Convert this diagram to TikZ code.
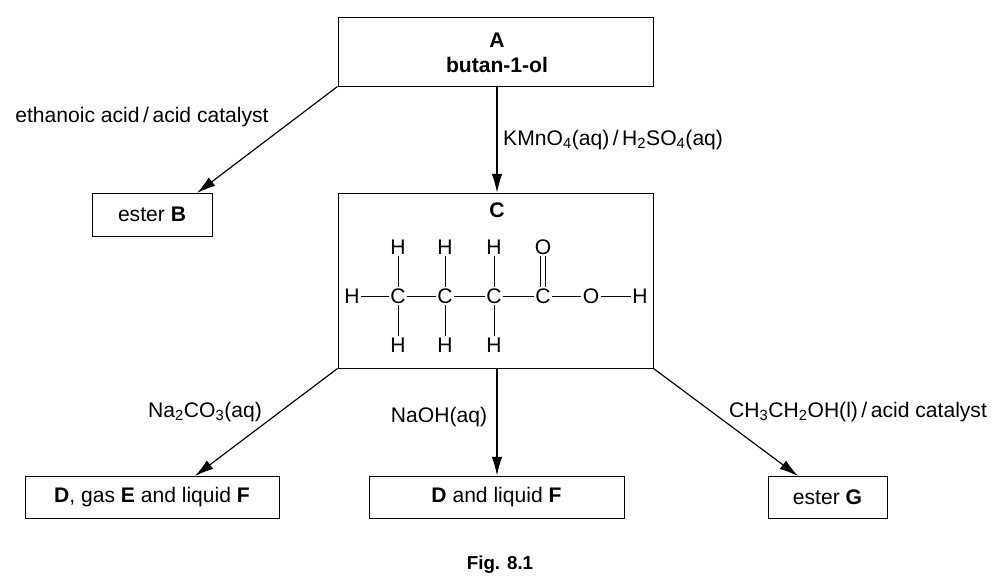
\documentclass[tikz,border=0pt]{standalone}
\usepackage{fontspec}
\setmainfont{Liberation Sans}
\usetikzlibrary{arrows.meta}
\newcommand{\sbs}[1]{\textsubscript{#1}}
\begin{document}
\begin{tikzpicture}[x=0.03cm,y=-0.03cm,
  box/.style={draw,line width=0.8pt,inner sep=0pt,font=\fontsize{18}{21}\selectfont},
  arr/.style={line width=1pt,-{Latex[length=16pt,width=9pt]}},
  lbl/.style={font=\fontsize{18}{21}\selectfont,inner sep=0pt},
  atom/.style={font=\fontsize{18}{21}\selectfont,inner sep=1pt},
  bond/.style={line width=0.8pt}]
\useasboundingbox (0,0) rectangle (1001,582);
\node[box,minimum width=315*0.03cm,minimum height=69*0.03cm] (A) at (495.5,51.5) {};
\node[lbl,font=\fontsize{18}{21}\selectfont\bfseries] at (497,40) {A};
\node[lbl,font=\fontsize{18}{21}\selectfont\bfseries] at (497,65) {butan-1-ol};
\node[box,minimum width=120*0.03cm,minimum height=43*0.03cm] (B) at (152,214.5) {ester \textbf{B}};
\node[box,minimum width=315*0.03cm,minimum height=175*0.03cm] (C) at (495.5,280.5) {};
\node[lbl,font=\fontsize{18}{21}\selectfont\bfseries] at (497,210) {C};
\node[box,minimum width=254*0.03cm,minimum height=42*0.03cm] (D1) at (152,497) {\textbf{D}, gas \textbf{E} and liquid \textbf{F}};
\node[box,minimum width=255*0.03cm,minimum height=42*0.03cm] (D2) at (496.5,497) {\textbf{D} and liquid \textbf{F}};
\node[box,minimum width=119*0.03cm,minimum height=42*0.03cm] (G) at (827.5,497) {ester \textbf{G}};
\node[lbl,font=\fontsize{16}{19}\selectfont\bfseries] (fig) at (500,565) {Fig. 8.1};
\coordinate (tB) at (197,193);
\coordinate (tD) at (195,476);
\coordinate (tG) at (798,476);
\draw[arr] (A.south west) -- (tB);
\draw[arr] (A.south -| 497,0) -- (C.north -| 497,0);
\draw[arr] (C.south west) -- (tD);
\draw[arr] (C.south -| 497,0) -- (D2.north -| 497,0);
\draw[arr] (C.south east) -- (tG);
\node[lbl] at (142,117) {ethanoic acid\,/\,acid catalyst};
\node[lbl,anchor=west] at (503,140) {KMnO\sbs{4}(aq)\,/\,H\sbs{2}SO\sbs{4}(aq)};
\node[lbl] at (205,412) {Na\sbs{2}CO\sbs{3}(aq)};
\node[lbl] at (439,417) {NaOH(aq)};
\node[lbl] at (858,412) {CH\sbs{3}CH\sbs{2}OH(l)\,/\,acid catalyst};
% molecule
\node[atom] (H0) at (352,296) {H};
\node[atom] (C1) at (398,296) {C};
\node[atom] (C2) at (445,296) {C};
\node[atom] (C3) at (494,296) {C};
\node[atom] (C4) at (543,296) {C};
\node[atom] (O1) at (591,296) {O};
\node[atom] (H9) at (640,296) {H};
\node[atom] (H1) at (398,247) {H};
\node[atom] (H2) at (445,247) {H};
\node[atom] (H3) at (494,247) {H};
\node[atom] (O2) at (543,247) {O};
\node[atom] (H4) at (398,345) {H};
\node[atom] (H5) at (445,345) {H};
\node[atom] (H6) at (494,345) {H};
\foreach \a/\b in {H0/C1,C1/C2,C2/C3,C3/C4,C4/O1,O1/H9,H1/C1,H2/C2,H3/C3,C1/H4,C2/H5,C3/H6}
  \draw[bond] (\a) -- (\b);
\draw[bond] ([xshift=-2pt]O2.south) -- ([xshift=-2pt]C4.north);
\draw[bond] ([xshift=2pt]O2.south) -- ([xshift=2pt]C4.north);
\end{tikzpicture}
\end{document}
